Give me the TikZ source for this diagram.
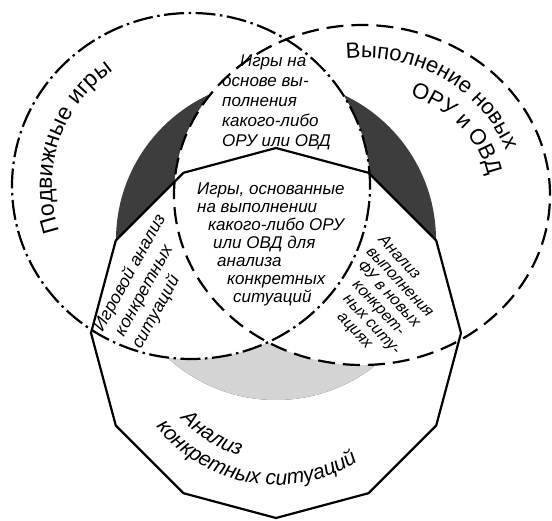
\documentclass[tikz,border=0pt]{standalone}
\usepackage{fontspec}
\setmainfont{Liberation Sans}
\usetikzlibrary{decorations.text}

\definecolor{darkshade}{gray}{0.24}
\definecolor{lightshade}{gray}{0.83}

\tikzset{
  dashdot/.style={line width=2.2pt, dash pattern=on 20pt off 4.5pt on 2.5pt off 4.5pt},
  longdash/.style={line width=2.2pt, dash pattern=on 17pt off 8pt},
  intext/.style={inner sep=0pt, align=left, font=\fontsize{17}{20}\selectfont\itshape},
}

\begin{document}
\begin{tikzpicture}[x=1pt,y=1pt]
  \useasboundingbox (0,0) rectangle (552,520);

  \pgfmathsetmacro\prad{185}   % radius of the dodecagon
  \def\leftoval{(191,334) ellipse [x radius=179, y radius=173]}
  \def\rightoval{(362,325) ellipse [x radius=188, y radius=170]}
  \def\dodeca{([shift={(276,187)}]90:\prad) \foreach \a in {120,150,...,420} {-- ([shift={(276,187)}]\a:\prad)} -- cycle}

% shaded ring
  \fill[darkshade] (276,280) circle (160);
  \begin{scope}
    \clip (276,280) circle (160);
    \fill[lightshade] \dodeca;
  \end{scope}
  \begin{scope}
    \clip \leftoval;
    \fill[white] \rightoval;
  \end{scope}
  \begin{scope}
    \clip \dodeca;
    \fill[white] \leftoval;
    \fill[white] \rightoval;
  \end{scope}

% outlines
  \draw[line width=2.2pt] \dodeca;
  \draw[dashdot] \leftoval;
  \draw[longdash] \rightoval;

% labels along the outlines
  \path[decorate, decoration={text along path,
      text={|\fontsize{23}{23}\selectfont|Подвижные игры}}]
    (191,334) ++(199:139) arc[start angle=199, end angle=90, radius=139];
  \path[decorate, decoration={text along path,
      text={|\fontsize{22}{22}\selectfont|Выполнение новых}}]
    (362,325) ++(96:152 and 137) arc[start angle=96, end angle=-5, x radius=152, y radius=137];
  \path[decorate, decoration={text along path,
      text={|\fontsize{22}{22}\selectfont|ОРУ и ОВД}}]
    (362,325) ++(68:128 and 107) arc[start angle=68, end angle=-5, x radius=128, y radius=107];
  \path[decorate, decoration={text along path,
      text={|\fontsize{21}{21}\selectfont\itshape|Анализ}}]
    (276,187) ++(222:128) arc[start angle=222, end angle=300, radius=128];
  \path[decorate, decoration={text along path,
      text={|\fontsize{21}{21}\selectfont\itshape|конкретных ситуаций}}]
    (276,187) ++(218:152) arc[start angle=218, end angle=330, radius=152];

% texts inside the regions
  \node[intext, anchor=north west] (lens) at (222,465)
    {\hspace*{18pt}Игры на\\основе вы-\\полнения\\какого-либо\\ОРУ или ОВД};
  \node[intext, anchor=north west, font=\fontsize{17}{18}\selectfont\itshape] (core) at (197,337)
    {Игры, основанные\\на выполнении\\\hspace*{11pt}какого-либо ОРУ\\\hspace*{16pt}или ОВД для\\
     \hspace*{20pt}анализа\\\hspace*{30pt}конкретных\\\hspace*{36pt}ситуаций};
  \node[intext, anchor=north west, rotate=61, font=\fontsize{17.5}{21}\selectfont\itshape] (game) at (91,194)
    {Игровой анализ\\\hspace*{6pt}конкретных\\\hspace*{3pt}ситуаций};
  \node[intext, anchor=north west, rotate=-47, font=\fontsize{16}{16.5}\selectfont\itshape] (newfu) at (386,287)
    {Анализ\\выполнения\\\hspace*{4pt}ФУ в новых\\\hspace*{15pt}конкрет-\\\hspace*{19pt}ных ситу-\\\hspace*{28pt}ациях};

\end{tikzpicture}
\end{document}
